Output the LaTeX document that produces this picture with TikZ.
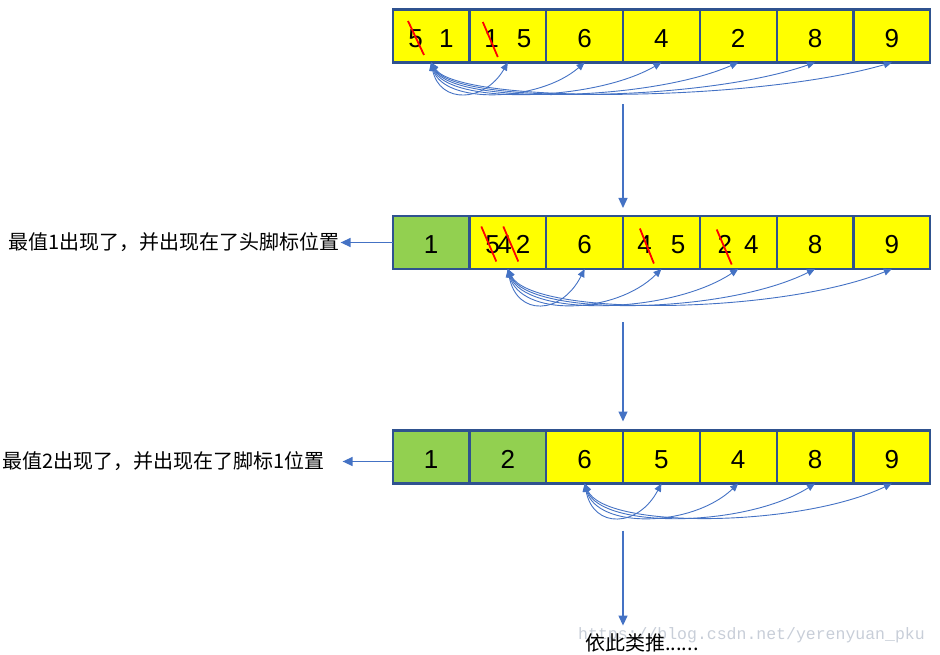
\documentclass[tikz,border=0pt]{standalone}
\usepackage{fontspec}
\setmainfont{Liberation Sans}
\newfontfamily\cjk{Noto Sans CJK SC}
\newfontfamily\wmfont{Liberation Mono}
\usepackage{xcolor}
\usetikzlibrary{arrows.meta, positioning}
\definecolor{slotyellow}{RGB}{255,255,0}
\definecolor{slotgreen}{RGB}{146,208,80}
\definecolor{slotborder}{RGB}{47,82,143}
\definecolor{arrowblue}{RGB}{68,114,196}
\definecolor{strikered}{RGB}{255,0,0}
\definecolor{markgray}{RGB}{200,206,216}
\tikzset{
  slot/.style={
    rectangle, minimum width=76.8pt, minimum height=53pt, inner sep=0pt,
    outer sep=0pt, draw=slotborder, line width=2.2pt, fill=slotyellow,
    font=\fontsize{26}{26}\selectfont, text=black,
    text height=23pt, text depth=0pt
  },
  doneslot/.style={slot, fill=slotgreen},
  note/.style={font=\cjk\fontsize{20}{24}\selectfont, inner sep=1pt, text=black},
  arrow/.style={-{Triangle[length=10pt,width=9pt]}, line width=1.3pt, color=arrowblue},
  swaparrow/.style={
    {Triangle[length=8pt,width=7pt]}-{Triangle[length=8pt,width=7pt]},
    line width=0.9pt, color=arrowblue
  },
  strike/.style={line width=1.8pt, color=strikered},
  watermark/.style={font=\wmfont\fontsize{16.5}{18}\selectfont, text=markgray, inner sep=0pt}
}

\begin{document}
\begin{tikzpicture}[x=1pt, y=-1pt, node distance=0pt]
  \useasboundingbox (0,0) rectangle (940,655);

  % Round 1
  \node[slot] (a1) at (431,36) {5\hspace{16.5pt}1};
  \node[slot, right=of a1] (a2) {1\hspace{18pt}5};
  \node[slot, right=of a2] (a3) {6};
  \node[slot, right=of a3] (a4) {4};
  \node[slot, right=of a4] (a5) {2};
  \node[slot, right=of a5] (a6) {8};
  \node[slot, right=of a6] (a7) {9};

  % Round 2
  \node[doneslot] (b1) at (431,242.5) {1};
  \node[slot, right=of b1] (b2) {5\kern-2.5pt4\kern4pt2};
  \node[slot, right=of b2] (b3) {6};
  \node[slot, right=of b3] (b4) {4\hspace{19pt}5};
  \node[slot, right=of b4] (b5) {2\hspace{12pt}4\hspace{7pt}};
  \node[slot, right=of b5] (b6) {8};
  \node[slot, right=of b6] (b7) {9};
  \node[note, left=52pt of b1] (msg1) {最值1出现了，并出现在了头脚标位置};

  % Round 3
  \node[doneslot] (c1) at (431,457) {1};
  \node[doneslot, right=of c1] (c2) {2};
  \node[slot, right=of c2] (c3) {6};
  \node[slot, right=of c3] (c4) {5};
  \node[slot, right=of c4] (c5) {4};
  \node[slot, right=of c5] (c6) {8};
  \node[slot, right=of c6] (c7) {9};
  \node[note, left=67pt of c1, yshift=-4.5pt] (msg2) {最值2出现了，并出现在了脚标1位置};

  % And so on
  \node[watermark, anchor=west] (mark) at (578,635) {https://blog.csdn.net/yerenyuan\_pku};
  \node[note, anchor=west] (etc) at (584,643) {依此类推......};
  \coordinate[above=7pt of etc.north] (etctop);

  % Crossed out values
  \draw[strike] ([shift={(-23,-15)}]a1.center) -- ++(16,34);
  \draw[strike] ([shift={(-25,-14)}]a2.center) -- ++(15,35);
  \draw[strike] ([shift={(-26.5,-16)}]b2.center) -- ++(15,35);
  \draw[strike] ([shift={(-4.5,-16)}]b2.center) -- ++(15,35);
  \draw[strike] ([shift={(-21.5,-14)}]b4.center) -- ++(14,35);
  \draw[strike] ([shift={(-21.5,-13)}]b5.center) -- ++(15,35);

  % Swaps
  \foreach \i in {2,...,7}
    \draw[swaparrow] (a1.south) .. controls +({0.05*(\i-1)*76.8+5},42)
      and +({-0.3*(\i-1)*76.8},40) .. (a\i.south);
  \foreach \i in {3,...,7}
    \draw[swaparrow] (b2.south) .. controls +({0.05*(\i-2)*76.8+5},48)
      and +({-0.3*(\i-2)*76.8},46) .. (b\i.south);
  \foreach \i in {4,...,7}
    \draw[swaparrow] (c3.south) .. controls +({0.05*(\i-3)*76.8+5},46)
      and +({-0.3*(\i-3)*76.8},44) .. (c\i.south);

  % Arrows
  \draw[arrow] ([yshift=-42pt]a3.south east) -- ([yshift=8pt]b4.north west);
  \draw[arrow] ([yshift=-53pt]b3.south east) -- ([yshift=9pt]c4.north west);
  \draw[arrow] ([yshift=-47pt]c3.south east) -- (c3.south east |- etctop);
  \draw[arrow] (b1.west) -- (msg1.east);
  \draw[arrow] (c1.west |- msg2) -- ([xshift=17pt]msg2.east);
\end{tikzpicture}
\end{document}
